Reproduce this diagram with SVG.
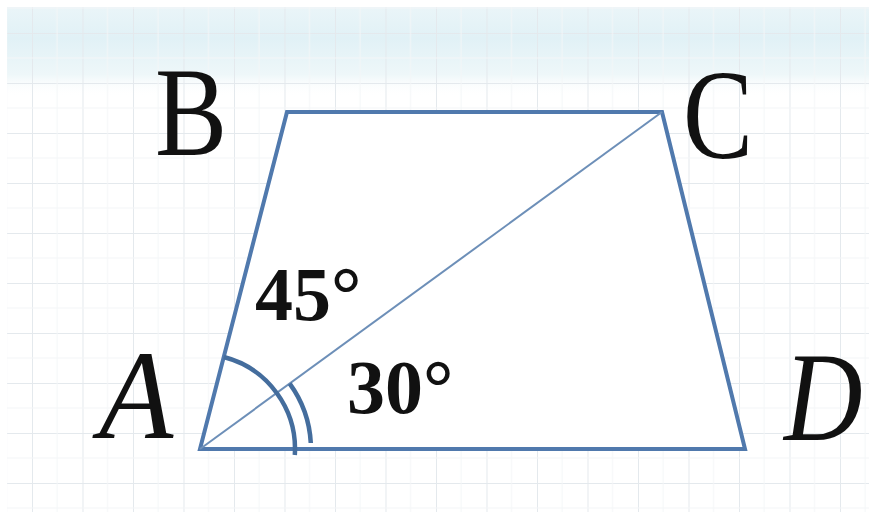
<svg xmlns="http://www.w3.org/2000/svg" width="869" height="512" viewBox="0 0 869 512">
<defs>
<linearGradient id="band" x1="0" y1="0" x2="0" y2="1">
<stop offset="0" stop-color="#eaf5f8"/>
<stop offset="0.35" stop-color="#e1f1f6"/>
<stop offset="0.75" stop-color="#eef7f9"/>
<stop offset="1" stop-color="#ffffff" stop-opacity="0"/>
</linearGradient>
<pattern id="grid" x="32" y="33" width="50.5" height="50" patternUnits="userSpaceOnUse">
<path d="M0 0V50M0 0H50.5" fill="none" stroke="#e4e9ed" stroke-width="2"/>
<path d="M25 0V50M0 25H50.5" fill="none" stroke="#f4f6f8" stroke-width="1"/>
</pattern>
<style>
.lbl{font-family:"Liberation Serif",serif;fill:#111;font-size:128px}
.deg{font-family:"Liberation Serif",serif;font-weight:bold;fill:#111;font-size:76px}
.side{fill:none;stroke:#5079ad;stroke-width:4;stroke-linejoin:miter}
.diag{fill:none;stroke:#6d8fb8;stroke-width:2}
.arc{fill:none;stroke:#446d9d;stroke-width:4.5}
</style>
</defs>
<rect width="869" height="512" fill="#ffffff"/>
<rect x="7" y="7" width="862" height="90" fill="url(#band)"/>
<rect x="7" y="7" width="862" height="505" fill="url(#grid)"/>
<g id="trapezoid">
<polygon points="200,449 287,112 662,112 745,449" fill="#ffffff"/>
<polygon class="side" points="200,449 287,112 662,112 745,449"/>
</g>
<g id="connectors">
<line class="diag" x1="200" y1="449" x2="662" y2="112"/>
</g>
<g id="angles">
<path class="arc" d="M223.8,357 A95,95 0 0 1 294.8,455"/>
<path class="arc" d="M289.7,383.6 A111,111 0 0 1 310.8,443"/>
</g>
<g id="labels">
<text class="lbl" transform="translate(155,155) scale(0.845,1)">B</text>
<text class="lbl" transform="translate(683,158) scale(0.82,1)">C</text>
<text class="lbl" font-style="italic" transform="translate(99,438) scale(0.95,1)">A</text>
<text class="lbl" font-style="italic" transform="translate(784,440) scale(0.85,1)">D</text>
<text class="deg" x="255" y="320">45°</text>
<text class="deg" x="347" y="413">30°</text>
</g>
</svg>
